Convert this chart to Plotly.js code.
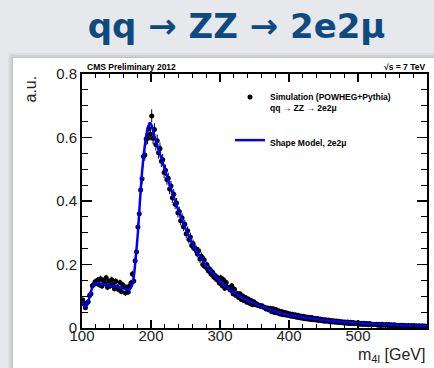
<!DOCTYPE html>
<html>
<head>
<meta charset="utf-8">
<script src="https://cdn.plot.ly/plotly-3.0.1.min.js"></script>
<style>html,body{margin:0;padding:0;background:#e7e8eb;}#chart{width:434px;height:368px;}</style>
</head>
<body>
<div id="chart"></div>
<script>
// Histogram binning (m4l, GeV)
const binStart = 100;
const binWidth = 2;
// Simulated events per 2 GeV bin, arbitrary units, bins 100-102 ... 598-600
const simValues = [
  .088,.076,.064,.079,.083,.102,.108,.133,.137,.146,
  .141,.151,.136,.155,.132,.149,.141,.158,.128,.147,
  .133,.152,.136,.124,.147,.129,.121,.143,.115,.136,
  .131,.110,.128,.113,.132,.142,.170,.148,.212,.240,
  .318,.360,.435,.470,.540,.545,.595,.598,.628,.610,
  .668,.598,.625,.578,.590,.552,.565,.525,.530,.490,
  .497,.468,.472,.438,.447,.410,.421,.390,.394,.363,
  .367,.338,.347,.319,.327,.297,.306,.279,.287,.260,
  .266,.250,.250,.234,.243,.217,.226,.200,.215,.192,
  .199,.180,.186,.170,.176,.161,.165,.153,.158,.142,
  .158,.134,.152,.125,.143,.128,.125,.120,.133,.108,
  .122,.103,.109,.096,.108,.090,.101,.086,.096,.081,
  .091,.078,.087,.073,.083,.073,.076,.071,.072,.068,
  .070,.065,.065,.060,.063,.057,.062,.051,.061,.049,
  .058,.047,.054,.044,.052,.042,.050,.041,.047,.039,
  .045,.037,.043,.036,.042,.034,.040,.032,.038,.031,
  .037,.029,.035,.028,.034,.027,.033,.026,.031,.025,
  .030,.024,.028,.023,.027,.021,.026,.021,.025,.020,
  .024,.019,.023,.018,.022,.017,.021,.017,.020,.016,
  .019,.015,.019,.014,.018,.014,.017,.013,.016,.013,
  .016,.012,.015,.011,.015,.011,.014,.010,.014,.011,
  .012,.011,.011,.012,.009,.012,.008,.012,.009,.010,
  .011,.008,.011,.007,.010,.007,.010,.007,.009,.006,
  .009,.006,.009,.006,.008,.005,.008,.005,.008,.005,
  .008,.005,.007,.004,.007,.004,.007,.004,.006,.004
];
// Shape model curve
const modelMass = [100,103,105,107,110,113,116,120,125,130,140,150,160,166,169,172,175,178,181,184,187,190,193,196,198.5,201,204,207,210,215,220,225,230,235,240,245,250,255,260,265,270,275,280,285,290,295,300,310,320,330,340,350,360,370,380,390,400,420,440,460,480,500,520,540,560,580,600];
const modelValue = [.085,.070,.066,.072,.090,.115,.132,.142,.140,.138,.134,.130,.125,.121,.121,.132,.160,.225,.300,.400,.490,.555,.605,.635,.646,.638,.612,.590,.568,.535,.500,.465,.432,.400,.368,.340,.313,.288,.265,.245,.228,.212,.197,.183,.170,.158,.147,.128,.112,.098,.087,.077,.068,.060,.052,.046,.041,.034,.028,.023,.019,.016,.013,.011,.009,.0075,.0065];
// Axis ticks
const xTicks = [100,200,300,400,500,600];
const yTicks = [0,0.2,0.4,0.6,0.8];

const simMass = simValues.map((v,i)=>binStart + binWidth*(i+0.5));
const simErr = simValues.map(v=>0.025*Math.sqrt(v));

const sans = 'Liberation Sans, Arial, sans-serif';

const traces = [
  {
    type:'scatter', mode:'markers', x: simMass, y: simValues,
    name:'Simulation (POWHEG+Pythia)<br>qq → ZZ → 2e2μ', legendgroup:'a',
    marker:{color:'#000', size:5},
    error_y:{type:'data', array: simErr, visible:true, color:'#000', thickness:1, width:0}
  },
  {
    type:'scatter', mode:'lines', x: modelMass, y: modelValue,
    name:'Shape Model, 2e2μ', legendgroup:'b',
    line:{color:'#0000ff', width:2.5, shape:'spline', smoothing:0.7}
  }
];

function px2x(p){return (p-82)/345;}
function py2y(p){return (328-p)/254;}

const layout = {
  width:434, height:368,
  paper_bgcolor:'#e7e8eb', plot_bgcolor:'rgba(0,0,0,0)',
  margin:{l:82, r:7, t:74, b:40},
  title:{text:'qq → ZZ → 2e2μ', x:0.545, xanchor:'center', xref:'container', y:1-26/368, yanchor:'middle', yref:'container',
    font:{family:'DejaVu Sans, sans-serif', size:34, color:'#0e4a80', weight:'bold'}},
  showlegend:true,
  legend:{x:px2x(230), y:py2y(85), xanchor:'left', yanchor:'top', bgcolor:'rgba(0,0,0,0)',
    font:{family:sans, size:8.5, color:'#000', weight:'bold'}, valign:'top', tracegroupgap:18, traceorder:'grouped'},
  xaxis:{range:[100,600], tickvals:xTicks, ticks:'inside', ticklen:8, tickwidth:1.5, tickcolor:'#000',
    showline:true, linecolor:'#000', linewidth:2, mirror:'ticks', showgrid:false, zeroline:false,
    ticklabelstandoff:-7,
    minor:{ticks:'inside', ticklen:4, dtick:20, tickcolor:'#000', tickwidth:1, showgrid:false},
    tickfont:{family:sans, size:15, color:'#222'}},
  yaxis:{range:[0,0.8], tickvals:yTicks, ticks:'inside', ticklen:10, tickwidth:1.5, tickcolor:'#000',
    showline:true, linecolor:'#000', linewidth:2, mirror:'ticks', showgrid:false, zeroline:false,
    minor:{ticks:'inside', ticklen:6, dtick:0.05, tickcolor:'#000', tickwidth:1, showgrid:false},
    tickfont:{family:sans, size:15, color:'#222'}},
  shapes:[
    {type:'rect', xref:'paper', yref:'paper', x0:px2x(8), x1:px2x(440), y0:py2y(380), y1:py2y(53), fillcolor:'rgba(0,0,0,0.04)', line:{width:0}, layer:'below'},
    {type:'rect', xref:'paper', yref:'paper', x0:px2x(10), x1:px2x(440), y0:py2y(380), y1:py2y(55), fillcolor:'rgba(0,0,0,0.05)', line:{width:0}, layer:'below'},
    {type:'rect', xref:'paper', yref:'paper', x0:px2x(12), x1:px2x(440), y0:py2y(380), y1:py2y(57), fillcolor:'rgba(0,0,0,0.07)', line:{width:0}, layer:'below'},
    {type:'rect', xref:'paper', yref:'paper', x0:px2x(13), x1:px2x(440), y0:py2y(380), y1:py2y(58), fillcolor:'#ffffff', line:{width:0}, layer:'below'}
  ],
  annotations:[
    {text:'a.u.', xref:'paper', yref:'paper', x:px2x(30), y:1, xanchor:'center', yanchor:'top', textangle:-90, showarrow:false,
      font:{family:sans, size:16, color:'#222'}},
    {text:'m<sub>4l</sub> [GeV]', xref:'paper', yref:'paper', x:1, y:py2y(355), xanchor:'right', yanchor:'middle', showarrow:false,
      font:{family:sans, size:16, color:'#222'}},
    {text:'<b>CMS Preliminary 2012</b>', xref:'paper', yref:'paper', x:px2x(85), y:py2y(67), xanchor:'left', yanchor:'middle', showarrow:false,
      font:{family:sans, size:8.5, color:'#000'}},
    {text:'<b>√s = 7 TeV</b>', xref:'paper', yref:'paper', x:1, y:py2y(67), xanchor:'right', yanchor:'middle', showarrow:false,
      font:{family:sans, size:8.5, color:'#000'}}
  ]
};

Plotly.newPlot('chart', traces, layout, {displayModeBar:false, staticPlot:true});
</script>
</body>
</html>
